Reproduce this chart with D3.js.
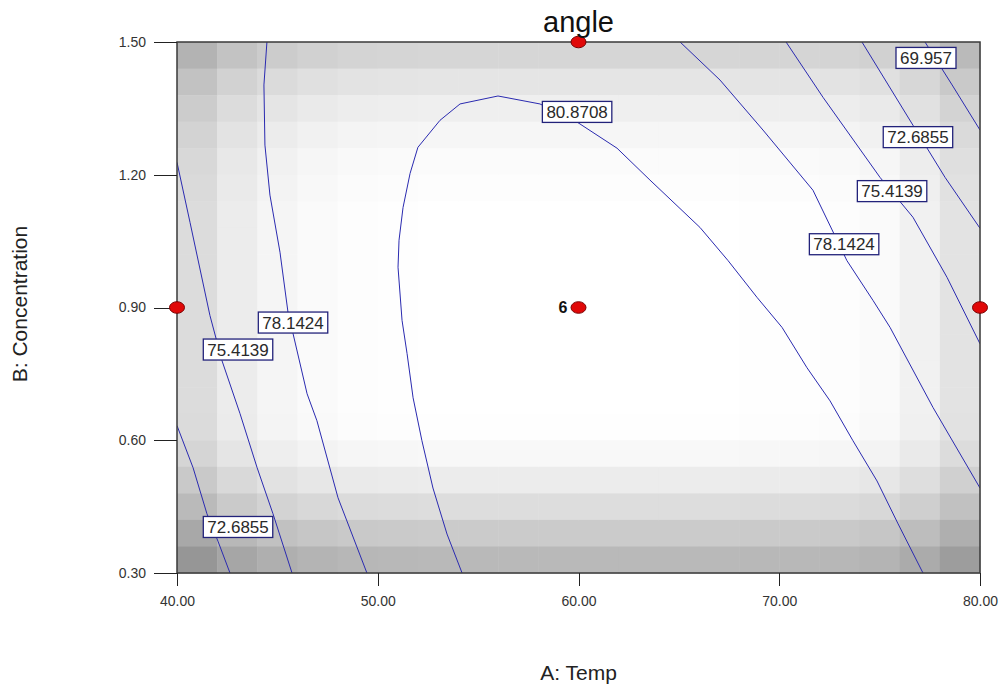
<!DOCTYPE html>
<html>
    <head>
        <meta charset="utf-8">
        <script type="text/javascript" src="https://cdnjs.cloudflare.com/ajax/libs/d3/7.8.5/d3.min.js"></script>
        <style>
        body {
            margin: 0;
            background: white;
        }
        .axis text {
            font-family: "Liberation Sans", Arial, sans-serif;
            font-size: 14px;
            fill: #333;
        }
        .axis path,
        .axis line {
            stroke: #222;
            shape-rendering: crispEdges;
        }
        </style>
    </head>
    <body>
        <script type="text/javascript">
        // axis ticks
        var xTicks = [40, 50, 60, 70, 80];
        var yTicks = [0.30, 0.60, 0.90, 1.20, 1.50];

        // background shading, darkness per column (A) and per row (B, top to bottom)
        var colDark = [35, 19, 10, 5, 2, 1, 0, 0, 0, 0, 0, 0, 0, 0, 1, 1, 2, 5, 14, 28];
        var rowDark = [41, 26, 16, 9, 4, 2, 0, 0, 0, 0, 0, 0, 0, 0, 1, 7, 19, 34, 52, 70];

        // contour lines, [A, B]
        var c69957 = [[77.26, 1.50], [78.61, 1.403], [80.00, 1.301]];
        var c72686R = [[74.12, 1.50], [76.66, 1.312], [78.26, 1.194], [80.00, 1.079]];
        var c72686L = [[40.00, 0.633], [40.80, 0.538], [41.49, 0.434], [42.04, 0.372], [42.64, 0.30]];
        var c75414R = [[70.34, 1.50], [72.18, 1.375], [75.02, 1.194], [76.66, 1.104], [78.36, 0.968], [80.00, 0.818]];
        var c75414L = [[40.00, 1.228], [40.65, 1.092], [41.64, 0.882], [42.24, 0.780], [43.14, 0.660],
                       [43.99, 0.538], [44.78, 0.434], [45.73, 0.30]];
        var c78142R = [[65.06, 1.50], [67.05, 1.414], [69.19, 1.301], [71.68, 1.165], [73.37, 1.006],
                       [74.67, 0.916], [75.52, 0.855], [77.66, 0.674], [80.00, 0.492]];
        var c78142L = [[44.48, 1.50], [44.33, 1.403], [44.38, 1.267], [44.63, 1.154], [45.13, 1.025],
                       [45.53, 0.889], [45.78, 0.841], [46.48, 0.705], [46.97, 0.644], [48.02, 0.470], [49.46, 0.30]];
        var c80871 = [[54.20, 0.30], [53.45, 0.388], [52.75, 0.492], [52.20, 0.599], [51.76, 0.696],
                      [51.46, 0.796], [51.21, 0.871], [51.01, 0.991], [51.06, 1.052], [51.26, 1.126],
                      [51.61, 1.203], [52.00, 1.262], [53.10, 1.323], [54.10, 1.360], [55.99, 1.378],
                      [58.08, 1.360], [59.93, 1.319], [61.92, 1.260], [63.56, 1.188], [66.05, 1.081],
                      [67.45, 1.006], [68.89, 0.923], [70.14, 0.855], [71.38, 0.764], [72.53, 0.689],
                      [73.67, 0.599], [74.87, 0.508], [75.92, 0.411], [77.16, 0.30]];

        // contour labels
        var labelText = ["69.957", "72.6855", "75.4139", "78.1424", "80.8708", "78.1424", "75.4139", "72.6855"];
        var labelA = [77.31, 76.91, 75.62, 73.23, 59.93, 45.78, 43.04, 43.04];
        var labelB = [1.464, 1.285, 1.163, 1.043, 1.342, 0.866, 0.805, 0.404];

        // design points
        var designA = [40, 60, 80, 60];
        var designB = [0.90, 0.90, 0.90, 1.50];

        var margin = {top: 42, right: 20, bottom: 115, left: 177},
            w = 1000 - margin.left - margin.right,
            h = 688 - margin.top - margin.bottom;

        var xScale = d3.scaleLinear().domain([40, 80]).range([0, w]);
        var yScale = d3.scaleLinear().domain([0.30, 1.50]).range([h, 0]);

        var colScale = d3.scaleBand().domain(d3.range(colDark.length)).range([0, w]);
        var rowScale = d3.scaleBand().domain(d3.range(rowDark.length)).range([0, h]);

        var svg = d3.select("body")
                    .append("svg")
                    .attr("width", 1000)
                    .attr("height", 688)
                  .append("g")
                    .attr("transform", "translate(" + margin.left + "," + margin.top + ")");

        svg.append("clipPath")
            .attr("id", "plotclip")
          .append("rect")
            .attr("width", w)
            .attr("height", h);

        // gray background cells
        var cells = [];
        colDark.forEach(function(c, i) {
            rowDark.forEach(function(r, j) {
                cells.push({i: i, j: j, v: Math.max(0, 255 - c - r)});
            });
        });
        svg.append("g")
            .selectAll("rect")
            .data(cells)
          .enter().append("rect")
            .attr("x", function(d) { return colScale(d.i); })
            .attr("y", function(d) { return rowScale(d.j); })
            .attr("width", colScale.bandwidth() + 0.5)
            .attr("height", rowScale.bandwidth() + 0.5)
            .attr("fill", function(d) { return "rgb(" + d.v + "," + d.v + "," + d.v + ")"; });

        // contour lines
        var line = d3.line()
            .x(function(d) { return xScale(d[0]); })
            .y(function(d) { return yScale(d[1]); });

        var contours = [c69957, c72686R, c72686L, c75414R, c75414L, c78142R, c78142L, c80871];
        svg.append("g")
            .attr("clip-path", "url(#plotclip)")
            .selectAll("path")
            .data(contours)
          .enter().append("path")
            .attr("d", line)
            .attr("fill", "none")
            .attr("stroke", "#2a2ab0")
            .attr("stroke-width", 1);

        // contour labels with boxes
        var labels = svg.append("g").selectAll("g")
            .data(labelText)
          .enter().append("g")
            .attr("transform", function(d, i) {
                return "translate(" + xScale(labelA[i]) + "," + yScale(labelB[i]) + ")";
            });
        labels.append("text")
            .attr("text-anchor", "middle")
            .attr("dy", "0.36em")
            .style("font-family", "Liberation Sans, Arial, sans-serif")
            .style("font-size", "17px")
            .style("fill", "#2a2a2a")
            .text(function(d) { return d; });
        labels.each(function() {
            var g = d3.select(this);
            var bb = g.select("text").node().getBBox();
            g.insert("rect", "text")
                .attr("x", bb.x - 4)
                .attr("y", -10.5)
                .attr("width", bb.width + 8)
                .attr("height", 21)
                .attr("fill", "white")
                .attr("stroke", "#22227a")
                .attr("stroke-width", 1.3);
        });

        // plot frame
        svg.append("rect")
            .attr("width", w)
            .attr("height", h)
            .attr("fill", "none")
            .attr("stroke", "#3a3a3a")
            .attr("stroke-width", 1.5);

        // axes
        svg.append("g")
            .attr("class", "x axis")
            .attr("transform", "translate(0," + h + ")")
            .call(d3.axisBottom(xScale).tickValues(xTicks).tickFormat(d3.format(".2f"))
                    .tickSizeInner(13).tickSizeOuter(0).tickPadding(10))
            .select(".domain").remove();

        svg.append("g")
            .attr("class", "y axis")
            .call(d3.axisLeft(yScale).tickValues(yTicks).tickFormat(d3.format(".2f"))
                    .tickSizeInner(23).tickSizeOuter(0).tickPadding(8))
            .select(".domain").remove();

        // design points
        svg.append("g")
            .selectAll("ellipse")
            .data(designA)
          .enter().append("ellipse")
            .attr("cx", function(d) { return xScale(d); })
            .attr("cy", function(d, i) { return yScale(designB[i]); })
            .attr("rx", 7.5)
            .attr("ry", 5.8)
            .attr("fill", "#e00808")
            .attr("stroke", "#7a0000")
            .attr("stroke-width", 1);

        svg.append("text")
            .attr("x", xScale(60) - 11)
            .attr("y", yScale(0.90))
            .attr("dy", "0.35em")
            .attr("text-anchor", "end")
            .style("font-family", "Liberation Sans, Arial, sans-serif")
            .style("font-size", "16px")
            .style("font-weight", "bold")
            .style("fill", "#111")
            .text("6");

        // title and axis titles
        svg.append("text")
            .attr("x", xScale(60))
            .attr("y", 32 - margin.top)
            .attr("text-anchor", "middle")
            .style("font-family", "Liberation Sans, Arial, sans-serif")
            .style("font-size", "29px")
            .style("fill", "#111")
            .text("angle");

        svg.append("text")
            .attr("x", xScale(60))
            .attr("y", 680 - margin.top)
            .attr("text-anchor", "middle")
            .style("font-family", "Liberation Sans, Arial, sans-serif")
            .style("font-size", "21px")
            .style("fill", "#222")
            .text("A: Temp");

        svg.append("text")
            .attr("transform", "rotate(-90)")
            .attr("x", -(304 - margin.top))
            .attr("y", 27 - margin.left)
            .attr("text-anchor", "middle")
            .style("font-family", "Liberation Sans, Arial, sans-serif")
            .style("font-size", "21px")
            .style("fill", "#222")
            .text("B: Concentration");

        d3.select("head").append("title").text("angle contour");
        </script>
    </body>
</html>
